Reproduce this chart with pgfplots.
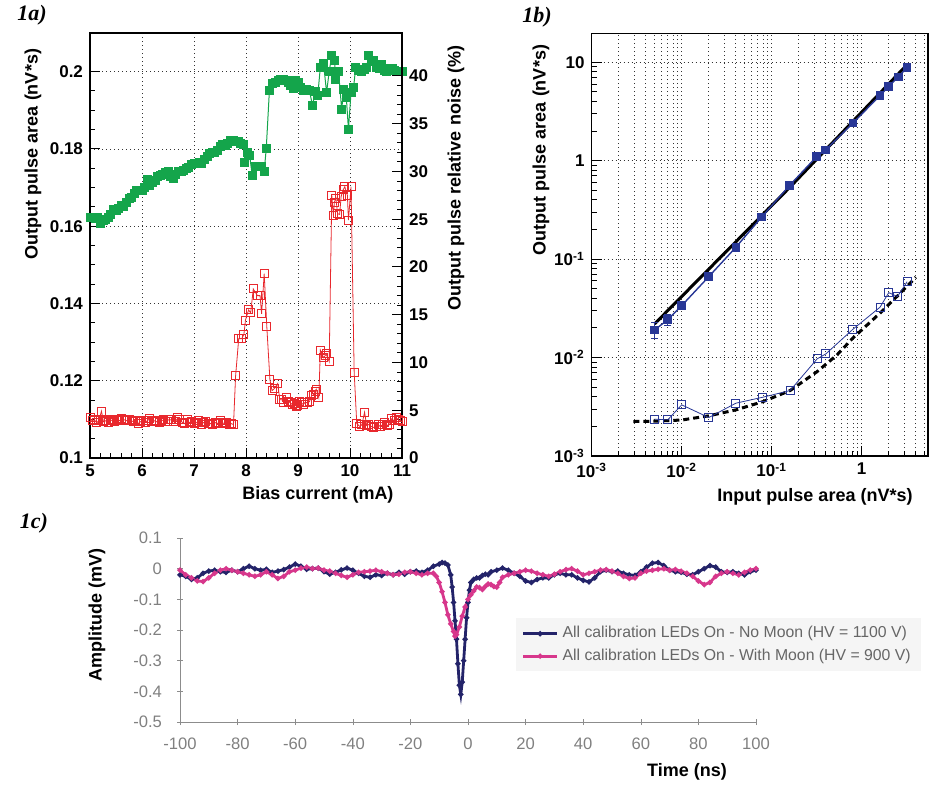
\documentclass[border=0pt]{standalone}
\usepackage{fontspec}
\setmainfont{Liberation Sans}
\newfontfamily\panelfont{Liberation Serif}
\usepackage{pgfplots}
\pgfplotsset{compat=1.18}

\definecolor{rootgreen}{RGB}{20,165,75}
\definecolor{rootred}{RGB}{232,40,45}
\definecolor{rootblue}{RGB}{40,55,150}
\definecolor{navyline}{RGB}{35,35,105}
\definecolor{pinkline}{RGB}{215,55,140}

\pgfplotsset{
  rootstyle/.style={
    scale only axis,
    axis line style={line width=0.6pt},
    tick align=inside, major tick length=5pt, minor tick length=2.5pt,
    tick style={line width=0.5pt, black},
    tick label style={font=\fontsize{8.5}{9}\selectfont\bfseries},
    /pgf/number format/assume math mode=true,
    grid style={black!80, line width=0.4pt, dash pattern=on 0.6pt off 1.4pt},
  },
}

\begin{document}
\begin{tikzpicture}
\path[use as bounding box] (0,0) rectangle (465pt,392pt);

% ---- 1a: output pulse area (left axis)
\begin{axis}[rootstyle, at={(45pt,163pt)}, anchor=south west,
  width=156pt, height=212.5pt,
  xmin=5, xmax=11, ymin=0.1, ymax=0.21,
  xtick={5,...,11}, ytick={0.1,0.12,0.14,0.16,0.18,0.2},
  minor x tick num=4, minor y tick num=3,
  xtick pos=bottom, ytick pos=left, grid=major,
  yticklabel style={/pgf/number format/fixed},
]
\addplot[rootgreen, line width=0.5pt, mark=square*, mark size=2pt,
  mark options={solid, draw=rootgreen, fill=rootgreen}] table {
5.00 0.1622
5.05 0.1622
5.10 0.1620
5.15 0.1622
5.20 0.1606
5.25 0.1615
5.30 0.1618
5.35 0.1622
5.40 0.1630
5.45 0.1642
5.50 0.1640
5.55 0.1645
5.60 0.1653
5.65 0.1652
5.70 0.1662
5.75 0.1671
5.80 0.1675
5.85 0.1685
5.90 0.1692
5.95 0.1692
6.00 0.1692
6.05 0.1700
6.10 0.1720
6.15 0.1705
6.20 0.1712
6.25 0.1718
6.30 0.1728
6.35 0.1731
6.40 0.1735
6.45 0.1740
6.50 0.1742
6.55 0.1728
6.60 0.1723
6.65 0.1735
6.70 0.1742
6.75 0.1742
6.80 0.1745
6.85 0.1750
6.90 0.1753
6.95 0.1760
7.00 0.1763
7.05 0.1763
7.10 0.1765
7.15 0.1763
7.20 0.1772
7.25 0.1780
7.30 0.1789
7.35 0.1792
7.40 0.1790
7.45 0.1795
7.50 0.1805
7.55 0.1811
7.60 0.1808
7.65 0.1815
7.70 0.1821
7.75 0.1821
7.80 0.1819
7.85 0.1819
7.90 0.1815
7.95 0.1811
7.98 0.1764
8.03 0.1790
8.07 0.1783
8.12 0.1731
8.18 0.1754
8.25 0.1754
8.30 0.1754
8.35 0.1742
8.39 0.1802
8.45 0.1951
8.51 0.1970
8.57 0.1972
8.62 0.1978
8.67 0.1980
8.72 0.1980
8.77 0.1978
8.82 0.1972
8.86 0.1965
8.91 0.1957
8.95 0.1978
9.00 0.1972
9.05 0.1960
9.10 0.1952
9.16 0.1953
9.22 0.1950
9.28 0.1912
9.33 0.1948
9.38 0.1938
9.43 0.2012
9.49 0.2022
9.55 0.1946
9.60 0.2001
9.65 0.2041
9.70 0.2030
9.73 0.1980
9.78 0.2000
9.84 0.1902
9.88 0.1955
9.93 0.1932
9.97 0.1851
10.02 0.1946
10.07 0.1960
10.11 0.2012
10.16 0.2003
10.22 0.2001
10.27 0.2005
10.32 0.2012
10.36 0.2041
10.41 0.2025
10.46 0.2030
10.51 0.2012
10.56 0.2008
10.61 0.2018
10.66 0.2003
10.71 0.2000
10.76 0.2008
10.81 0.2008
10.86 0.2003
10.91 0.2000
10.96 0.2001
11.00 0.2000
};
\end{axis}

% ---- 1a: relative noise (right axis)
\begin{axis}[rootstyle, at={(45pt,163pt)}, anchor=south west,
  width=156pt, height=212.5pt,
  xmin=5, xmax=11, ymin=0, ymax=44.5,
  hide x axis, axis y line*=right, tick align=inside,
  ytick={0,5,...,40}, minor y tick num=4,
]
\addplot[rootred, line width=0.4pt, mark=square, mark size=2pt,
  mark options={solid, draw=rootred, fill=none, line width=0.5pt}] table {
5.00 4.2
5.04 3.9
5.08 4.0
5.13 3.7
5.17 3.9
5.22 4.9
5.26 3.8
5.30 3.9
5.35 3.7
5.39 4.0
5.44 3.9
5.48 3.8
5.52 4.0
5.57 3.9
5.61 4.1
5.66 4.0
5.70 3.9
5.75 4.0
5.79 3.9
5.84 3.8
5.88 3.9
5.93 3.6
5.97 3.8
6.02 3.9
6.06 3.7
6.10 3.9
6.15 4.1
6.19 3.8
6.24 3.9
6.28 3.8
6.33 3.7
6.37 3.9
6.42 4.0
6.46 3.8
6.51 4.0
6.55 4.0
6.60 3.8
6.64 3.8
6.69 4.2
6.73 4.0
6.78 3.7
6.82 3.6
6.87 4.0
6.91 3.7
6.96 3.8
7.00 3.6
7.05 3.7
7.09 3.9
7.14 3.5
7.18 3.7
7.23 3.8
7.27 3.6
7.32 3.6
7.36 3.5
7.41 3.7
7.45 3.6
7.50 3.9
7.54 3.7
7.59 3.6
7.63 3.7
7.68 3.5
7.72 3.6
7.76 3.5
7.80 8.6
7.86 12.5
7.92 12.5
7.96 12.95
7.99 14.45
8.05 15.5
8.09 15.2
8.14 17.7
8.22 17.0
8.27 17.0
8.30 15.1
8.35 19.3
8.40 13.75
8.46 8.2
8.50 7.05
8.55 7.3
8.61 7.8
8.65 6.1
8.69 6.1
8.73 5.8
8.77 6.3
8.81 5.9
8.85 5.8
8.89 5.6
8.93 5.7
8.97 5.4
8.99 5.5
9.03 5.9
9.06 5.8
9.10 5.6
9.13 5.8
9.18 5.8
9.22 5.9
9.26 6.5
9.29 6.6
9.33 7.0
9.35 7.2
9.40 6.3
9.43 11.3
9.49 10.5
9.52 10.7
9.54 10.9
9.60 10.1
9.65 27.5
9.68 25.4
9.70 26.8
9.73 27.2
9.76 25.6
9.80 25.5
9.83 27.4
9.87 28.1
9.90 28.4
9.95 27.5
9.97 24.9
10.02 28.4
10.08 9.0
10.13 3.6
10.19 3.3
10.23 3.5
10.28 4.8
10.32 3.4
10.36 3.5
10.41 3.3
10.45 3.2
10.50 3.3
10.54 3.5
10.58 3.3
10.63 3.5
10.67 3.7
10.72 3.4
10.76 3.5
10.80 4.1
10.85 3.9
10.89 4.2
10.93 4.0
10.98 3.9
11.00 3.8
};
\end{axis}

% ---- 1b: linearity, log-log
\begin{axis}[rootstyle, xmode=log, ymode=log,
  at={(295.85pt,164pt)}, anchor=south west,
  width=168.15pt, height=211.35pt,
  xmin=1e-3, xmax=5.46, ymin=1e-3, ymax=19.7,
  xtick={0.001,0.01,0.1,1},
  xticklabels={10\textsuperscript{-3},10\textsuperscript{-2},10\textsuperscript{-1},1},
  ytick={0.001,0.01,0.1,1,10},
  yticklabels={10\textsuperscript{-3},10\textsuperscript{-2},10\textsuperscript{-1},1,10},
  minor xtick={0.002,0.003,0.004,0.005,0.006,0.007,0.008,0.009,
    0.02,0.03,0.04,0.05,0.06,0.07,0.08,0.09,
    0.2,0.3,0.4,0.5,0.6,0.7,0.8,0.9,2,3,4,5},
  minor ytick={0.002,0.003,0.004,0.005,0.006,0.007,0.008,0.009,
    0.02,0.03,0.04,0.05,0.06,0.07,0.08,0.09,
    0.2,0.3,0.4,0.5,0.6,0.7,0.8,0.9,2,3,4,5,6,7,8,9},
  xtick pos=bottom, ytick pos=left,
  grid=major, xminorgrids=true,
]
\addplot[black, line width=1.5pt, densely dashed] table {
0.0029 0.00224
0.005 0.00226
0.01 0.00232
0.02 0.00256
0.04 0.00294
0.08 0.00357
0.16 0.00462
0.32 0.0072
0.53 0.0106
0.8 0.0158
1.6 0.0283
2.5 0.0423
4.0 0.0655
};
\addplot[black, line width=1.5pt] table {
0.005 0.022
0.16 0.54
3.25 9.6
};
\addplot[rootblue, line width=0.7pt, mark=square*, mark size=1.8pt,
  error bars/.cd, y dir=both, y explicit] table[y error=e] {
x y e
0.005 0.0191 0.0035
0.007 0.0242 0.003
0.01 0.0337 0.003
0.02 0.0664 0
0.04 0.132 0
0.0775 0.268 0
0.157 0.557 0
0.316 1.1 0
0.398 1.29 0
0.8 2.41 0
1.6 4.6 0
2.0 5.7 0
2.55 7.08 0
3.2 8.85 0
};
\addplot[rootblue, line width=0.4pt, mark=square, mark size=2pt,
  mark options={solid, draw=rootblue, fill=none, line width=0.5pt}] table {
0.005 0.00237
0.007 0.00233
0.01 0.00331
0.02 0.00246
0.04 0.00344
0.08 0.00396
0.16 0.00462
0.32 0.0097
0.4 0.0109
0.8 0.0194
1.6 0.0325
2.0 0.0457
2.5 0.0417
3.2 0.059
};
\end{axis}

% ---- 1c: amplitude vs time
\begin{axis}[scale only axis, at={(90pt,31pt)}, anchor=south west,
  width=288pt, height=92pt,
  xmin=-100, xmax=100, ymin=-0.5, ymax=0.1,
  axis lines*=left, axis line style={black!45, line width=0.5pt},
  tick style={black!45}, tick align=center, major tick length=3pt,
  xtick={-100,-80,...,100}, ytick={-0.5,-0.4,-0.3,-0.2,-0.1,0,0.1},
  tick label style={font=\fontsize{8.3}{9}\selectfont, color=black!50},
  xticklabel style={yshift=-3pt},
  yticklabel style={/pgf/number format/fixed, xshift=-4pt},
  /pgf/number format/assume math mode=true,
  legend style={at={(0.582,0.565)}, anchor=north west, fill=black!4, draw=none,
    font=\fontsize{7.9}{8.5}\selectfont\color{black!60}, inner xsep=3pt, inner ysep=2pt},
  legend cell align=left,
]
\addplot[navyline, line width=1.4pt, mark=*, mark size=0.5pt] table {
-100 -0.02
-98 -0.025
-96 -0.035
-94 -0.03
-92 -0.015
-90 -0.008
-88 -0.005
-86 -0.01
-84 -0.012
-82 -0.005
-80 -0.01
-78 0.0
-76 0.008
-74 0.0
-72 -0.005
-70 -0.002
-68 -0.012
-66 -0.008
-64 -0.003
-62 0.005
-60 0.015
-58 0.008
-56 -0.002
-54 0.0
-52 0.002
-50 -0.01
-48 -0.018
-46 -0.012
-44 -0.004
-42 0.002
-40 -0.005
-38 -0.015
-36 -0.025
-34 -0.028
-32 -0.02
-30 -0.022
-28 -0.015
-26 -0.02
-24 -0.012
-22 -0.018
-20 -0.01
-18 -0.008
-16 -0.012
-14 -0.005
-12 0.008
-10 0.015
-9 0.02
-8 0.018
-7 0.012
-6 -0.02
-5.5 -0.06
-5 -0.11
-4.5 -0.17
-4 -0.23
-3.5 -0.31
-3 -0.38
-2.5 -0.41
-2 -0.37
-1.5 -0.3
-1 -0.23
-0.5 -0.16
0 -0.11
0.5 -0.07
1 -0.045
2 -0.035
3 -0.03
4 -0.03
5 -0.022
6 -0.018
7 -0.02
8 -0.01
10 -0.005
12 0.002
14 -0.005
16 -0.015
18 -0.025
20 -0.04
22 -0.045
24 -0.035
26 -0.03
28 -0.03
30 -0.02
32 -0.015
34 -0.02
36 -0.02
38 -0.03
40 -0.038
42 -0.043
44 -0.03
46 -0.01
48 -0.005
50 -0.01
52 -0.008
54 -0.015
56 -0.02
58 -0.022
60 -0.01
62 0.005
64 0.018
66 0.02
68 0.01
70 -0.005
72 -0.01
74 -0.012
76 -0.018
78 -0.02
80 -0.01
82 0.0
84 0.01
86 0.005
88 -0.01
90 -0.012
92 -0.01
94 -0.015
96 -0.02
98 -0.01
100 -0.005
};
\addlegendentry{All calibration LEDs On - No Moon (HV = 1100 V)}
\addplot[pinkline, line width=1.4pt, mark=*, mark size=0.5pt] table {
-100 -0.005
-98 -0.02
-96 -0.03
-94 -0.04
-92 -0.042
-90 -0.03
-88 -0.015
-86 -0.005
-84 0.0
-82 -0.005
-80 -0.01
-78 -0.015
-76 -0.02
-74 -0.025
-72 -0.02
-70 -0.01
-68 -0.02
-66 -0.032
-64 -0.025
-62 -0.01
-60 -0.005
-58 0.002
-56 0.005
-54 0.0
-52 0.002
-50 -0.005
-48 -0.008
-46 -0.015
-44 -0.022
-42 -0.028
-40 -0.02
-38 -0.012
-36 -0.01
-34 -0.008
-32 -0.005
-30 -0.01
-28 -0.015
-26 -0.02
-24 -0.018
-22 -0.012
-20 -0.01
-18 -0.015
-16 -0.02
-14 -0.015
-12 -0.015
-11 -0.025
-10 -0.045
-9 -0.075
-8 -0.11
-7 -0.15
-6 -0.18
-5 -0.205
-4.5 -0.22
-4 -0.215
-3 -0.19
-2 -0.155
-1 -0.125
0 -0.1
1 -0.085
2 -0.072
3 -0.06
4 -0.062
5 -0.068
6 -0.058
7 -0.05
8 -0.052
9 -0.058
10 -0.06
11 -0.045
12 -0.028
14 -0.02
16 -0.015
18 -0.01
20 -0.005
22 -0.008
24 -0.015
26 -0.02
28 -0.025
30 -0.018
32 -0.01
34 -0.003
36 0.0
38 -0.008
40 -0.02
42 -0.015
44 -0.01
46 -0.005
48 -0.003
50 -0.008
52 -0.015
54 -0.025
56 -0.032
58 -0.03
60 -0.015
62 -0.008
64 -0.005
66 -0.002
68 0.0
70 -0.005
72 -0.003
74 -0.008
76 -0.015
78 -0.025
80 -0.04
82 -0.052
84 -0.045
86 -0.025
88 -0.015
90 -0.01
92 -0.015
94 -0.02
96 -0.012
98 -0.005
100 0.0
};
\addlegendentry{All calibration LEDs On - With Moon (HV = 900 V)}
\end{axis}

% ---- panel labels and axis titles
\node[font=\panelfont\fontsize{11}{12}\selectfont\bfseries\itshape] at (16pt,384.5pt) {1a)};
\node[font=\panelfont\fontsize{11}{12}\selectfont\bfseries\itshape] at (268.5pt,383.5pt) {1b)};
\node[font=\panelfont\fontsize{11}{12}\selectfont\bfseries\itshape] at (17pt,130.5pt) {1c)};

\node[font=\fontsize{9}{10}\selectfont\bfseries, rotate=90] at (16.5pt,315pt) {Output pulse area (nV*s)};
\node[font=\fontsize{9}{10}\selectfont\bfseries, rotate=90] at (228pt,303pt) {Output pulse relative noise (\%)};
\node[font=\fontsize{9}{10}\selectfont\bfseries] at (159pt,144.5pt) {Bias current (mA)};
\node[font=\fontsize{9}{10}\selectfont\bfseries, rotate=90] at (270.5pt,317pt) {Output pulse area (nV*s)};
\node[font=\fontsize{9}{10}\selectfont\bfseries] at (407.5pt,143.5pt) {Input pulse area (nV*s)};
\node[font=\fontsize{9}{10}\selectfont\bfseries, rotate=90] at (48.5pt,84.5pt) {Amplitude (mV)};
\node[font=\fontsize{9}{10}\selectfont\bfseries] at (343.5pt,6pt) {Time (ns)};
\end{tikzpicture}
\end{document}
